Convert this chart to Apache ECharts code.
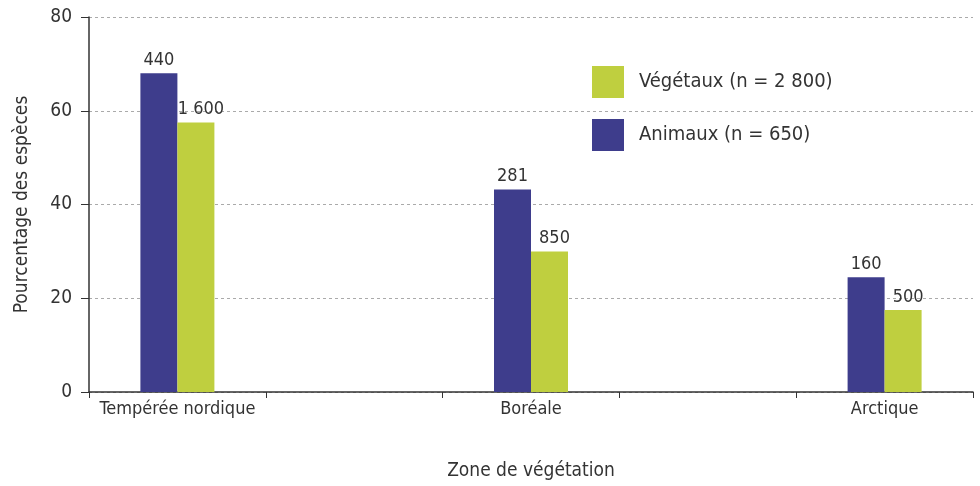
<!DOCTYPE html>
<html lang="fr">
<head>
  <meta charset="UTF-8">
  <script src="https://cdn.jsdelivr.net/npm/echarts@6.0.0/dist/echarts.min.js"></script>
  <title>Pourcentage des espèces par zone de végétation</title>
  <style>
    html, body { margin: 0; padding: 0; background: #fff; }
    #chart { width: 980px; height: 486px; }
  </style>
</head>
<body>
<div id="chart"></div>
<script>
  // zones (with empty slots between them, as in the original)
  var zones = ['Tempérée nordique', '', 'Boréale', '', 'Arctique'];
  var animaux = [68, '-', 43.2, '-', 24.5];
  var vegetaux = [57.5, '-', 30, '-', 17.5];
  var animauxLabels = ['440', '', '281', '', '160'];
  var vegetauxLabels = ['1 600', '', '850', '', '500'];
  var yTicks = [0, 20, 40, 60, 80];

  var font = '"Liberation Sans Narrow", "DejaVu Sans Condensed", "Roboto", sans-serif';
  var textColor = '#333';

  var myChart = echarts.init(document.getElementById('chart'), null, { renderer: 'canvas' });

  var option = {
    animation: false,
    textStyle: { fontFamily: font, color: textColor },
    grid: { left: 89, right: 7, top: 17, bottom: 92, containLabel: false },
    legend: {
      orient: 'vertical',
      left: 592,
      top: 66,
      padding: 0,
      itemWidth: 32,
      itemHeight: 32,
      itemGap: 21,
      icon: 'rect',
      data: ['Végétaux (n = 2 800)', 'Animaux (n = 650)'],
      textStyle: { fontFamily: font, fontSize: 20, color: textColor, padding: [0, 0, 0, 10] }
    },
    xAxis: {
      type: 'category',
      data: zones,
      name: 'Zone de végétation',
      nameLocation: 'middle',
      nameGap: 70,
      nameTextStyle: { fontFamily: font, fontSize: 19, color: textColor },
      axisLine: { lineStyle: { color: '#333', width: 1.5 } },
      axisTick: { show: true, length: 6, lineStyle: { color: '#333' } },
      axisLabel: { fontFamily: font, fontSize: 18, color: textColor, margin: 8, interval: 0 }
    },
    yAxis: {
      type: 'value',
      min: 0,
      max: 80,
      interval: 20,
      name: 'Pourcentage des espèces',
      nameLocation: 'middle',
      nameGap: 57,
      nameRotate: 90,
      nameTextStyle: { fontFamily: font, fontSize: 19, color: textColor },
      axisLine: { show: true, lineStyle: { color: '#333', width: 1.5 } },
      axisTick: { show: true, length: 8, lineStyle: { color: '#333' } },
      axisLabel: {
        fontFamily: font, fontSize: 19, color: textColor, margin: 17,
        formatter: function (v) { return yTicks.indexOf(v) >= 0 ? String(v) : ''; }
      },
      splitLine: { show: true, lineStyle: { color: '#aaa', type: [3, 3], width: 1 } }
    },
    series: [
      {
        name: 'Animaux (n = 650)',
        type: 'bar',
        data: animaux,
        barWidth: 37,
        barGap: '0%',
        itemStyle: { color: '#3e3d8c' },
        label: {
          show: true, position: 'top', distance: 4,
          fontFamily: font, fontSize: 18, color: textColor,
          formatter: function (p) { return animauxLabels[p.dataIndex]; }
        }
      },
      {
        name: 'Végétaux (n = 2 800)',
        type: 'bar',
        data: vegetaux,
        barWidth: 37,
        barGap: '0%',
        itemStyle: { color: '#bfcf3f' },
        label: {
          show: true, position: 'top', distance: 4, offset: [5, 0],
          fontFamily: font, fontSize: 18, color: textColor,
          formatter: function (p) { return vegetauxLabels[p.dataIndex]; }
        }
      }
    ]
  };

  myChart.setOption(option);
</script>
</body>
</html>
